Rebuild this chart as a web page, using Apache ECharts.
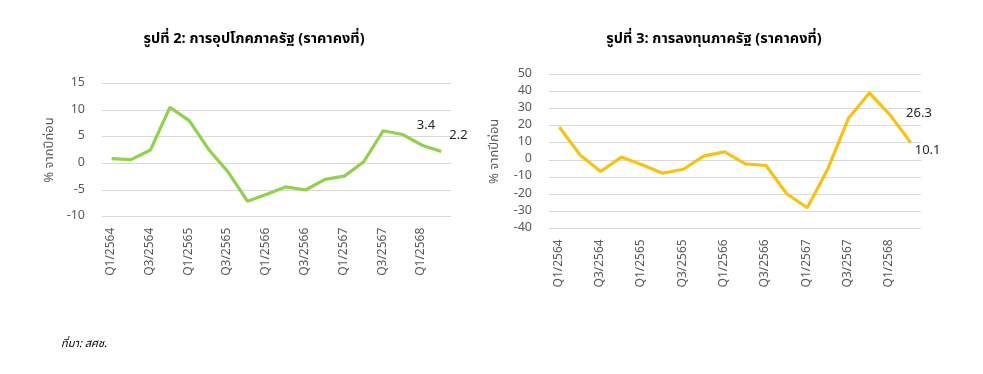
<!DOCTYPE html>
<html>
<head>
<meta charset="utf-8">
<script src="https://cdn.jsdelivr.net/npm/echarts@6/dist/echarts.min.js"></script>
<style>
html,body{margin:0;padding:0;background:#fff;}
#c{width:983px;height:374px;}
</style>
</head>
<body>
<div id="c"></div>
<script>
// ---- data ----
const quarters = ['Q1/2564','Q2/2564','Q3/2564','Q4/2564','Q1/2565','Q2/2565','Q3/2565','Q4/2565',
  'Q1/2566','Q2/2566','Q3/2566','Q4/2566','Q1/2567','Q2/2567','Q3/2567','Q4/2567','Q1/2568','Q2/2568'];
const govConsumption = [0.9, 0.7, 2.5, 10.5, 8.0, 2.6, -1.6, -7.1, -5.8, -4.4, -5.0, -3.0, -2.4, 0.3, 6.1, 5.4, 3.4, 2.2];
const govInvestment = [19.2, 2.9, -6.8, 1.6, -2.9, -7.8, -5.5, 2.3, 4.7, -2.3, -3.3, -19.8, -28.0, -5.0, 24.5, 39.1, 26.3, 10.1];
const title1 = 'รูปที่ 2: การอุปโภคภาครัฐ (ราคาคงที่)';
const title2 = 'รูปที่ 3: การลงทุนภาครัฐ (ราคาคงที่)';
const yName = '% จากปีก่อน';
const source = 'ที่มา: สศช.';

const FONT = "'Noto Sans Thai','Tahoma','Loma','Garuda','Noto Sans','DejaVu Sans',sans-serif";

const chart = echarts.init(document.getElementById('c'), null, {renderer:'canvas'});

function lbl(pos, dist, off){
  return {show:true, position:pos, distance:dist, offset:off,
    color:'#262626', fontSize:13, fontFamily:FONT};
}
function withLabels(arr, specs){
  return arr.map((v,i)=> specs[i] ? {value:v, label:specs[i]} : v);
}
const n = quarters.length;
const s1 = {}; s1[n-2] = lbl('top', 12, [4,0]); s1[n-1] = lbl('right', 8, [0,-15]);
const s2 = {}; s2[n-2] = lbl('right', 16, [0,0]); s2[n-1] = lbl('right', 4, [0,9]);

function xAxis(gi){
  return {type:'category', gridIndex:gi, data:quarters, boundaryGap:true,
    axisTick:{show:false},
    axisLine:{show:true, lineStyle:{color:'#d9d9d9', width:1}},
    axisLabel:{interval:1, rotate:90, margin:11, color:'#595959', fontSize:12, fontFamily:FONT}};
}
function yAxis(gi, min, max, step, gap){
  return {type:'value', gridIndex:gi, min:min, max:max, interval:step,
    name:yName, nameLocation:'middle', nameRotate:90, nameGap:gap,
    nameTextStyle:{color:'#595959', fontSize:13, fontFamily:FONT},
    axisLine:{show:false}, axisTick:{show:false},
    splitLine:{lineStyle:{color:'#d9d9d9', width:1}},
    axisLabel:{margin:17, color:'#595959', fontSize:12.5, fontFamily:FONT}};
}

chart.setOption({
  animation:false,
  backgroundColor:'#ffffff',
  grid:[
    {left:102, top:83.3, width:349, height:133.4, containLabel:false},
    {left:549, top:74.3, width:372, height:154, containLabel:false}
  ],
  xAxis:[xAxis(0), xAxis(1)],
  yAxis:[yAxis(0,-10,15,5,45), yAxis(1,-40,50,10,47)],
  series:[
    {type:'line', xAxisIndex:0, yAxisIndex:0, data:withLabels(govConsumption, s1),
     symbol:'circle', symbolSize:0.1, showSymbol:true,
     itemStyle:{color:'#92D050'}, lineStyle:{color:'#92D050', width:3.2}},
    {type:'line', xAxisIndex:1, yAxisIndex:1, data:withLabels(govInvestment, s2),
     symbol:'circle', symbolSize:0.1, showSymbol:true,
     itemStyle:{color:'#F7C217'}, lineStyle:{color:'#F7C217', width:3.2}}
  ],
  graphic:[
    {type:'text', x:254, y:40, style:{text:title1, fill:'#000', font:"bold 14.5px "+FONT, textAlign:'center', textVerticalAlign:'middle'}},
    {type:'text', x:714, y:40, style:{text:title2, fill:'#000', font:"bold 14.5px "+FONT, textAlign:'center', textVerticalAlign:'middle'}},
    {type:'text', x:61, y:345, style:{text:source, fill:'#000', font:"italic 11px "+FONT, textAlign:'left', textVerticalAlign:'middle'}}
  ]
});
</script>
</body>
</html>
